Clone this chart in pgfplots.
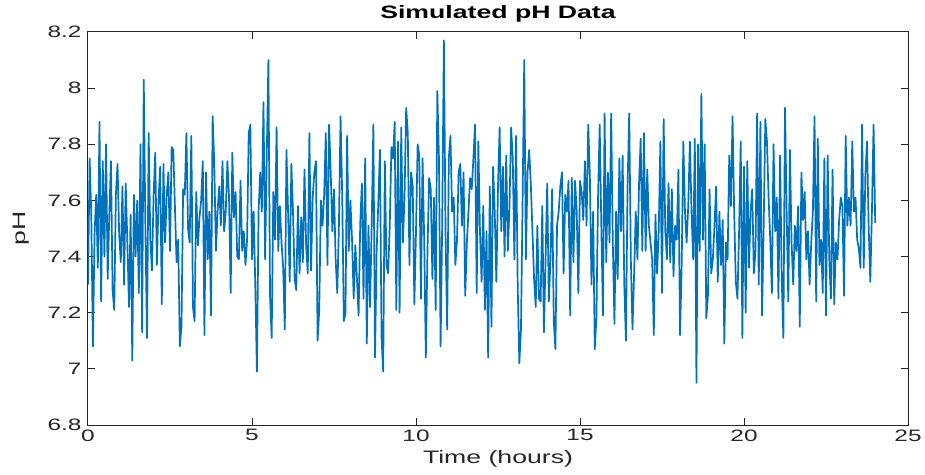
\documentclass[border=0pt]{standalone}
\usepackage{fontspec}
\setmainfont{Liberation Sans}[FakeStretch=1.48]
\usepackage{pgfplots}
\pgfplotsset{compat=1.18}
\definecolor{mblue}{RGB}{0,114,189}
\definecolor{maxis}{RGB}{38,38,38}
\begin{document}
\begin{tikzpicture}
\path[use as bounding box] (-88pt,-49pt) rectangle (837pt,425pt);
\begin{axis}[
  at={(0pt,0pt)}, anchor=south west,
  scale only axis, width=820pt, height=393pt,
  xmin=0, xmax=25, ymin=6.8, ymax=8.2,
  xtick={0,5,10,15,20,25},
  ytick={6.8,7,7.2,7.4,7.6,7.8,8,8.2},
  yticklabels={6.8,7,7.2,7.4,7.6,7.8,8,8.2},
  tick align=inside, tick pos=both,
  major tick length=7pt,
  axis line style={maxis, line width=1pt},
  tick style={maxis, line width=1pt},
  /pgf/number format/assume math mode=true,
  ticklabel style={font=\fontsize{16.5}{19}\selectfont, text=maxis},
  xticklabel style={yshift=-1pt},
  yticklabel style={xshift=-3pt},
  xlabel={Time (hours)},
  ylabel={pH},
  xlabel style={font=\fontsize{18}{21}\selectfont, text=maxis, at={(axis description cs:0.5,0)}, anchor=center, yshift=-34pt},
  ylabel style={font=\fontsize{18}{21}\selectfont, text=maxis, at={(axis description cs:0,0.5)}, anchor=center, yshift=67pt},
  title={\bfseries Simulated pH Data},
  title style={font=\fontsize{18}{21}\selectfont, at={(axis description cs:0.5,1)}, anchor=center, yshift=12pt},
]
\addplot[mblue, line width=1.7pt, line join=round] table[x expr=\coordindex*0.05, y index=0, header=false, row sep=\\] {
7.30\\7.75\\7.55\\7.08\\7.48\\7.62\\7.36\\7.88\\7.24\\7.74\\
7.40\\7.80\\7.32\\7.55\\7.74\\7.28\\7.21\\7.62\\7.73\\7.48\\
7.38\\7.65\\7.30\\7.66\\7.45\\7.22\\7.55\\7.03\\7.62\\7.40\\
7.60\\7.27\\7.80\\7.13\\8.03\\7.50\\7.11\\7.84\\7.46\\7.35\\
7.62\\7.77\\7.37\\7.60\\7.72\\7.23\\7.73\\7.45\\7.62\\7.70\\
7.42\\7.79\\7.78\\7.58\\7.38\\7.46\\7.08\\7.15\\7.64\\7.62\\
7.84\\7.50\\7.45\\
7.83\\7.22\\7.17\\7.63\\7.44\\7.54\\7.60\\7.74\\7.12\\7.70\\
7.39\\7.56\\7.19\\7.90\\7.73\\7.42\\7.56\\7.65\\7.51\\7.74\\
7.49\\7.56\\7.74\\7.61\\7.27\\7.77\\7.54\\7.63\\7.40\\7.39\\
7.67\\7.42\\7.49\\7.37\\7.46\\7.84\\7.87\\7.39\\7.56\\7.30\\
6.99\\7.56\\7.70\\7.56\\7.95\\7.39\\7.76\\8.10\\7.26\\7.11\\
7.63\\7.46\\7.86\\7.42\\7.58\\7.45\\7.36\\7.14\\7.78\\7.56\\
7.31\\7.73\\7.56\\7.32\\
7.28\\7.58\\7.34\\7.54\\7.38\\7.71\\7.44\\7.34\\7.84\\7.35\\
7.61\\7.70\\7.74\\7.10\\7.21\\7.60\\7.51\\7.62\\7.84\\7.37\\
7.87\\7.70\\7.49\\7.64\\7.39\\7.27\\7.51\\7.90\\7.62\\7.17\\
7.20\\7.83\\7.42\\7.60\\7.46\\7.25\\7.44\\7.32\\7.19\\7.52\\
7.66\\7.25\\7.75\\7.09\\7.51\\7.22\\7.52\\7.87\\7.04\\7.42\\
7.59\\7.78\\7.11\\6.99\\7.74\\7.37\\7.34\\7.51\\7.79\\7.75\\
7.88\\7.21\\7.81\\7.20\\
7.86\\7.45\\7.61\\7.93\\7.84\\7.37\\7.70\\7.65\\7.23\\7.49\\
7.80\\7.76\\7.25\\7.75\\7.46\\7.04\\7.42\\7.68\\7.64\\7.32\\
7.61\\7.21\\7.99\\7.75\\7.08\\7.53\\8.17\\7.49\\7.14\\7.75\\
7.83\\7.56\\7.61\\7.37\\7.46\\7.70\\7.73\\7.51\\7.70\\7.26\\
7.45\\7.56\\7.68\\7.64\\7.75\\7.87\\7.27\\7.81\\7.49\\7.31\\
7.58\\7.21\\7.49\\7.04\\7.65\\7.15\\7.72\\7.56\\7.31\\7.65\\
7.86\\7.49\\7.72\\7.40\\
7.76\\7.42\\7.58\\7.86\\7.75\\7.39\\7.83\\7.30\\7.02\\7.14\\
7.60\\8.10\\7.39\\7.70\\7.78\\7.66\\7.49\\7.32\\7.22\\7.51\\
7.25\\7.24\\7.58\\7.13\\7.39\\7.66\\7.24\\7.39\\7.64\\7.17\\
7.07\\7.51\\7.56\\7.65\\7.70\\7.34\\7.62\\7.56\\7.67\\7.19\\
7.68\\7.38\\7.67\\7.56\\7.27\\7.67\\7.63\\7.53\\7.74\\7.51\\
7.87\\7.69\\7.30\\7.56\\7.07\\7.18\\7.61\\7.87\\7.51\\7.19\\
7.91\\7.38\\7.70\\7.45\\
7.91\\7.45\\7.16\\7.56\\7.32\\7.75\\7.49\\7.76\\7.30\\7.10\\
7.65\\7.91\\7.39\\7.14\\7.34\\7.56\\7.39\\7.66\\7.82\\7.42\\
7.84\\7.42\\7.71\\7.51\\7.45\\7.39\\7.12\\7.55\\7.34\\7.49\\
7.81\\7.27\\7.89\\7.49\\7.39\\7.66\\7.38\\7.64\\7.33\\7.51\\
7.46\\7.71\\7.12\\7.37\\7.81\\7.56\\7.45\\7.58\\7.81\\7.56\\
7.39\\7.82\\6.95\\7.80\\7.42\\7.98\\7.46\\7.80\\7.18\\7.26\\
7.64\\7.34\\7.39\\7.51\\
7.65\\7.31\\7.56\\7.37\\7.53\\7.09\\7.45\\7.39\\7.76\\7.58\\
7.90\\7.56\\7.31\\7.25\\7.49\\7.81\\7.11\\7.72\\7.20\\7.74\\
7.36\\7.56\\7.64\\7.34\\7.42\\7.91\\7.30\\7.88\\7.19\\7.51\\
7.89\\7.81\\7.61\\7.46\\7.27\\7.80\\7.49\\7.61\\7.25\\7.76\\
7.32\\7.11\\7.93\\7.56\\7.24\\7.78\\7.45\\7.30\\7.51\\7.42\\
7.58\\7.15\\7.70\\7.53\\7.63\\7.39\\7.49\\7.30\\7.45\\7.56\\
7.90\\7.24\\7.82\\7.37\\
7.46\\7.27\\7.75\\7.19\\7.76\\7.39\\7.25\\7.71\\7.23\\7.45\\
7.39\\7.53\\7.61\\7.58\\7.26\\7.83\\7.51\\7.61\\7.51\\7.81\\
7.56\\7.61\\7.46\\7.43\\7.36\\7.87\\7.36\\7.69\\7.81\\7.51\\
7.31\\7.56\\7.87\\7.52\\
};
\end{axis}
\end{tikzpicture}
\end{document}
